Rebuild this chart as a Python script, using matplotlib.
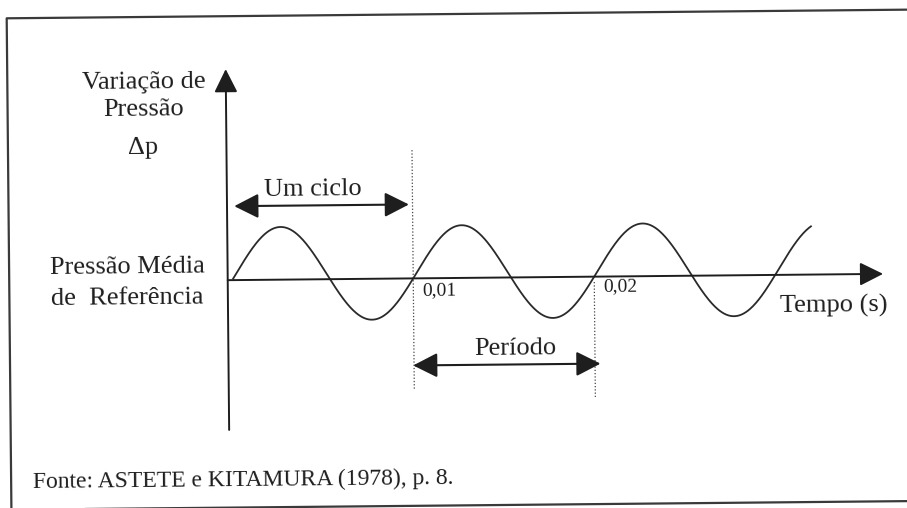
import numpy as np
import matplotlib.pyplot as plt
from matplotlib.transforms import Affine2D

plt.rcParams['font.family'] = ['Liberation Serif', 'DejaVu Serif']

# sine wave of the pressure variation (time in s, pressure in amplitude units)
period = 0.01
amplitude = 1.0
mean_offset = 0.126
t_start = 0.00005
t_end = 0.0320
marks = [0.01, 0.02]
mark_labels = ['0,01', '0,02']

ink = '#1e1e1e'
fig = plt.figure(figsize=(9.07, 5.08), dpi=100)
ax = fig.add_axes([0, 0, 1, 1])
ax.set_xlim(-232 / 18100, 675 / 18100)
ax.set_ylim(-230 / 46.8, 278 / 46.8)
ax.axis('off')

# the printed page sits slightly rotated
tilt = Affine2D().rotate_deg_around(453.5, 254, 0.55)
tr = ax.transData + tilt
tf = ax.transAxes + tilt
rot = 0.55

# frame around the figure
ax.plot([1.05, 0.0099, 0.0099, 1.05], [0.005, 0.005, 0.9724, 0.9724],
        transform=tf, color='#3a3a3a', lw=1.6, clip_on=False)

arrow = dict(arrowstyle='-|>,head_length=0.72,head_width=0.36',
             mutation_scale=20, lw=1.4, color=ink, shrinkA=0, shrinkB=0)
dbl = dict(arrowstyle='<|-|>,head_length=0.75,head_width=0.38',
           mutation_scale=20, lw=1.5, color=ink, shrinkA=0, shrinkB=0)

# axes
ax.annotate('', xy=(0.03596, 0), xytext=(-0.00025, 0), xycoords=tr, arrowprops=arrow)
ax.annotate('', xy=(-0.00025, 4.51), xytext=(-0.00025, -3.20), xycoords=tr, arrowprops=arrow)

# wave
t = np.linspace(t_start, t_end, 800)
p = amplitude * np.sin(2 * np.pi * t / period - np.arcsin(mean_offset / amplitude)) + mean_offset
ax.plot(t, p, transform=tr, color='#2a2a2a', lw=1.3)

# dotted guides at the marked instants
ax.plot([marks[0], marks[0]], [2.74, -2.38], transform=tr, color='#444',
        lw=0.9, ls=(0, (1, 1.6)))
ax.plot([marks[1], marks[1]], [-0.115, -2.57], transform=tr, color='#444',
        lw=0.9, ls=(0, (1, 1.6)))
for m, lab, y in zip(marks, mark_labels, [-0.357, -0.31]):
    ax.text(m + 0.00048, y, lab, transform=tr, rotation=rot, rotation_mode='anchor',
            fontsize=14, color=ink, ha='left', va='baseline')

# "Um ciclo" and "Periodo" spans
ax.annotate('', xy=(0.0098, 1.58), xytext=(0.00015, 1.58), xycoords=tr, arrowprops=dbl)
ax.annotate('', xy=(0.0203, -1.86), xytext=(0.00995, -1.86), xycoords=tr, arrowprops=dbl)

labels = [
    ('Variação de', -0.0048, 4.12, 19),
    ('Pressão', -0.00479, 3.53, 19),
    ('Δp', -0.00486, 2.72, 19),
    ('Pressão Média', -0.00581, 0.173, 19),
    ('de  Referência', -0.00583, -0.489, 19),
    ('Um ciclo', 0.00451, 1.80, 19),
    ('Período', 0.01558, -1.66, 19),
]
for s, x, y, fs in labels:
    ax.text(x, y, s, transform=tr, rotation=rot, rotation_mode='anchor',
            fontsize=fs, color=ink, ha='center', va='baseline')

ax.text(0.03024, -0.81, 'Tempo (s)', transform=tr, rotation=rot, rotation_mode='anchor',
        fontsize=19, color=ink, ha='left', va='baseline')
ax.text(-0.01112, -4.40, 'Fonte: ASTETE e KITAMURA (1978), p. 8.', transform=tr,
        rotation=rot, rotation_mode='anchor', fontsize=17, color=ink,
        ha='left', va='baseline')

fig.savefig('out.png', dpi=100)
